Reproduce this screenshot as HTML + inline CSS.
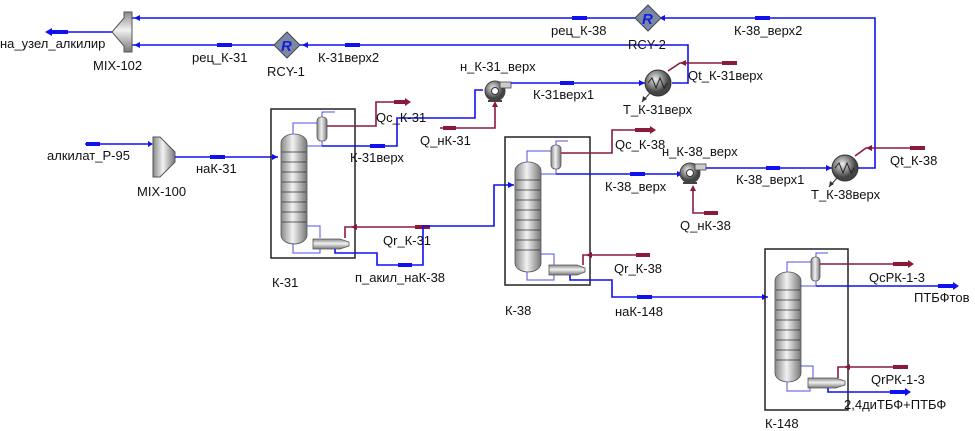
<!DOCTYPE html>
<html><head><meta charset="utf-8"><style>
body{margin:0;background:#fff}
svg{display:block}
text{font-family:"Liberation Sans",Arial,sans-serif;font-size:13px;fill:#111}
.b{stroke:#1010f0;stroke-width:1.6;fill:none}
.bt{stroke:#5050e0;stroke-width:1;fill:none}
.r{stroke:#8a1a3a;stroke-width:1.6;fill:none}
.ba{stroke:#1010f0;stroke-width:4;fill:none}
.ra{stroke:#8a1a3a;stroke-width:4;fill:none}
.box{fill:none;stroke:#222;stroke-width:1.5}
</style></head><body>
<svg width="975" height="431" viewBox="0 0 975 431">
<defs>
<linearGradient id="g" x1="0" x2="1"><stop offset="0" stop-color="#888"/><stop offset="0.45" stop-color="#f2f2f2"/><stop offset="1" stop-color="#777"/></linearGradient>
<linearGradient id="gv" x1="0" x2="0" y1="0" y2="1"><stop offset="0" stop-color="#888"/><stop offset="0.45" stop-color="#f2f2f2"/><stop offset="1" stop-color="#777"/></linearGradient>
<radialGradient id="rg" cx="0.4" cy="0.35"><stop offset="0" stop-color="#eee"/><stop offset="1" stop-color="#444"/></radialGradient>
<g id="col">
<rect x="0" y="0" width="26" height="110" rx="13" ry="9" fill="url(#g)" stroke="#555" stroke-width="0.8"/>
<path d="M1 18H25M1 28H25M1 38H25M1 48H25M1 58H25M1 68H25M1 78H25M1 88H25" stroke="#333" stroke-width="0.8"/>
</g>
</defs>

<path class="b" d="M132 18H875V168H858"/>
<path class="b" d="M132 45H688V83H672"/>
<path class="b" d="M112 32H60"/>
<path class="ba" d="M68 32H52"/><path d="M52 28L45 32L52 36Z" fill="#1010f0"/>
<path class="ba" d="M587 18H572"/><path class="ba" d="M770 18H755"/>
<path class="ba" d="M232 45H217"/><path class="ba" d="M360 45H345"/>
<path d="M140 15L134 18L140 21Z M140 42L134 45L140 48Z M308 42L302 45L308 48Z M665 15L659 18L665 21Z" fill="#1010f0"/>
<path d="M112 32L124 18V12H132V52H124V46Z" fill="url(#gv)" stroke="#555"/>
<path d="M287 32L300 45L287 58L274 45Z" fill="#7a8aa0" stroke="#445"/>
<text x="281" y="51" style="font-weight:bold;font-style:italic;fill:#1a1ae0;font-size:15px">R</text>
<path d="M648 5L661 18L648 31L635 18Z" fill="#7a8aa0" stroke="#445"/>
<text x="642" y="24" style="font-weight:bold;font-style:italic;fill:#1a1ae0;font-size:15px">R</text>

<path class="b" d="M85 144H150"/><path class="ba" d="M86 144H100"/><path d="M148 141L153 144L148 147Z" fill="#1010f0"/>
<path d="M153 137H160L175 152V162L160 177H153Z" fill="url(#g)" stroke="#555"/>
<path class="b" d="M175 157H278"/><path class="ba" d="M210 157H225"/><path d="M272 154L278 157L272 160Z" fill="#1010f0"/>

<rect class="box" x="271" y="109" width="84" height="149"/>
<use href="#col" x="281" y="134"/>
<path class="bt" d="M293 134V123H317M293 243V253H320V248M307 226H320V238M322 117V112H335"/>
<rect x="317" y="117" width="10" height="24" rx="4" fill="url(#g)" stroke="#555" stroke-width="0.8"/>
<path d="M313 239H340L349 242V246L340 249H313Z" fill="url(#gv)" stroke="#555" stroke-width="0.8"/>
<path class="bt" d="M307 146H322V141"/>
<path class="b" d="M322 146H397V118H475V90H483"/><path class="ba" d="M370 146H385"/>
<path class="r" d="M327 126H376V102H405"/><path class="ra" d="M394 102H405"/><path d="M405 98L411 102L405 106Z" fill="#8a1a3a"/>
<path class="r" d="M345 238V227H430"/><path class="ra" d="M415 227H430"/><path d="M357 224L351 227L357 230Z" fill="#8a1a3a"/>
<path class="b" d="M335 249V253H377V265H423V226H494V185H514"/><path class="ba" d="M398 265H412"/><path d="M508 182L514 185L508 188Z" fill="#1010f0"/>

<circle cx="495" cy="91" r="10" fill="url(#rg)" stroke="#444"/><circle cx="495" cy="91" r="3.5" fill="#fff" stroke="#333"/>
<rect x="500" y="82" width="11" height="6" fill="#ccc" stroke="#444" stroke-width="0.8"/>
<path d="M488 101H502" stroke="#444" stroke-width="2"/>
<path class="r" d="M440 128H495V103"/><path class="ra" d="M443 128H456"/><path d="M492 107L495 101L498 107Z" fill="#8a1a3a"/>
<path class="b" d="M511 83H645"/><path class="ba" d="M560 83H574"/><path d="M639 80L645 83L639 86Z" fill="#1010f0"/>
<circle cx="658" cy="83" r="13" fill="url(#rg)" stroke="#333"/>
<path d="M648 83l4-5l4 10l4-10l4 10l3-5" stroke="#222" fill="none"/>
<path d="M668 71L680 63H737" class="r"/><path class="ra" d="M722 63H737"/><path d="M686 60L680 63L686 66Z" fill="#8a1a3a"/>
<path d="M650 93L642 102" stroke="#333"/><path d="M642 102l1-6l4 3z" fill="#333"/>

<rect class="box" x="505" y="137" width="85" height="148"/>
<use href="#col" x="515" y="162"/>
<path class="bt" d="M527 162V151H551M527 272V280H554V275M541 254H554V265M556 145V141H568"/>
<rect x="551" y="145" width="10" height="24" rx="4" fill="url(#g)" stroke="#555" stroke-width="0.8"/>
<path d="M549 265H577L585 268V272L577 275H549Z" fill="url(#gv)" stroke="#555" stroke-width="0.8"/>
<path class="bt" d="M541 174H556V169"/>
<path class="b" d="M556 174H680"/><path class="ba" d="M630 174H645"/><path d="M677 171L683 174L677 177Z" fill="#1010f0"/>
<path class="r" d="M561 153H612V130H650"/><path class="ra" d="M635 130H650"/><path d="M650 126L656 130L650 134Z" fill="#8a1a3a"/>
<path class="r" d="M583 265V255H650"/><path class="ra" d="M636 255H650"/><path d="M592 252L586 255L592 258Z" fill="#8a1a3a"/>
<path class="b" d="M570 275V280H612V297H768"/><path class="ba" d="M637 297H652"/><path d="M762 294L768 297L762 300Z" fill="#1010f0"/>

<circle cx="690" cy="173" r="10" fill="url(#rg)" stroke="#444"/><circle cx="690" cy="173" r="3.5" fill="#fff" stroke="#333"/>
<rect x="695" y="164" width="11" height="6" fill="#ccc" stroke="#444" stroke-width="0.8"/>
<path d="M683 183H697" stroke="#444" stroke-width="2"/>
<path class="r" d="M718 213H693V187"/><path class="ra" d="M704 213H718"/><path d="M690 191L693 185L696 191Z" fill="#8a1a3a"/>
<path class="b" d="M706 168H832"/><path class="ba" d="M766 168H780"/><path d="M826 165L832 168L826 171Z" fill="#1010f0"/>
<circle cx="845" cy="168" r="13" fill="url(#rg)" stroke="#333"/>
<path d="M835 168l4-5l4 10l4-10l4 10l3-5" stroke="#222" fill="none"/>
<path d="M855 156L866 148H925" class="r"/><path class="ra" d="M910 148H925"/><path d="M872 145L866 148L872 151Z" fill="#8a1a3a"/>
<path d="M837 178L829 187" stroke="#333"/><path d="M829 187l1-6l4 3z" fill="#333"/>

<rect class="box" x="765" y="249" width="83" height="161"/>
<use href="#col" x="775" y="272"/>
<path class="bt" d="M787 272V262H811M787 382V391H810V388M800 366H813V378M816 257V253H828"/>
<rect x="811" y="257" width="9" height="24" rx="4" fill="url(#g)" stroke="#555" stroke-width="0.8"/>
<path d="M808 378H836L845 381V385L836 388H808Z" fill="url(#gv)" stroke="#555" stroke-width="0.8"/>
<path class="bt" d="M800 286H816V281"/>
<path class="r" d="M820 264H908"/><path class="ra" d="M893 264H908"/><path d="M908 260L914 264L908 268Z" fill="#8a1a3a"/>
<path class="b" d="M816 286H953"/><path class="ba" d="M938 286H953"/><path d="M953 282L959 286L953 290Z" fill="#1010f0"/>
<path class="r" d="M838 378V367H908"/><path class="ra" d="M893 367H908"/><path d="M850 364L844 367L850 370Z" fill="#8a1a3a"/>
<path class="b" d="M828 388V392H905"/><path class="ba" d="M890 392H905"/><path d="M905 388L911 392L905 396Z" fill="#1010f0"/>

<text x="0" y="48">на_узел_алкилир</text>
<text x="93" y="70">MIX-102</text>
<text x="192" y="62">рец_К-31</text>
<text x="318" y="62">К-31верх2</text>
<text x="267" y="76">RCY-1</text>
<text x="551" y="35">рец_К-38</text>
<text x="734" y="35">К-38_верх2</text>
<text x="628" y="49">RCY-2</text>
<text x="460" y="71">н_К-31_верх</text>
<text x="533" y="99">К-31верх1</text>
<text x="688" y="80">Qt_К-31верх</text>
<text x="623" y="114">T_К-31верх</text>
<text x="47" y="160">алкилат_Р-95</text>
<text x="196" y="173">наК-31</text>
<text x="137" y="196">MIX-100</text>
<text x="376" y="122">Qc_К-31</text>
<text x="420" y="145">Q_нК-31</text>
<text x="350" y="162">К-31верх</text>
<text x="383" y="245">Qr_К-31</text>
<text x="272" y="287">К-31</text>
<text x="355" y="282">п_акил_наК-38</text>
<text x="615" y="149">Qc_К-38</text>
<text x="662" y="156">н_К-38_верх</text>
<text x="605" y="191">К-38_верх</text>
<text x="736" y="184">К-38_верх1</text>
<text x="890" y="165">Qt_К-38</text>
<text x="811" y="199">T_К-38верх</text>
<text x="680" y="230">Q_нК-38</text>
<text x="614" y="273">Qr_К-38</text>
<text x="505" y="315">К-38</text>
<text x="615" y="316">наК-148</text>
<text x="869" y="282">QcРК-1-3</text>
<text x="914" y="302">ПТБФтов</text>
<text x="871" y="384">QrРК-1-3</text>
<text x="844" y="409">2,4диТБФ+ПТБФ</text>
<text x="765" y="428">К-148</text>
</svg>
</body></html>
